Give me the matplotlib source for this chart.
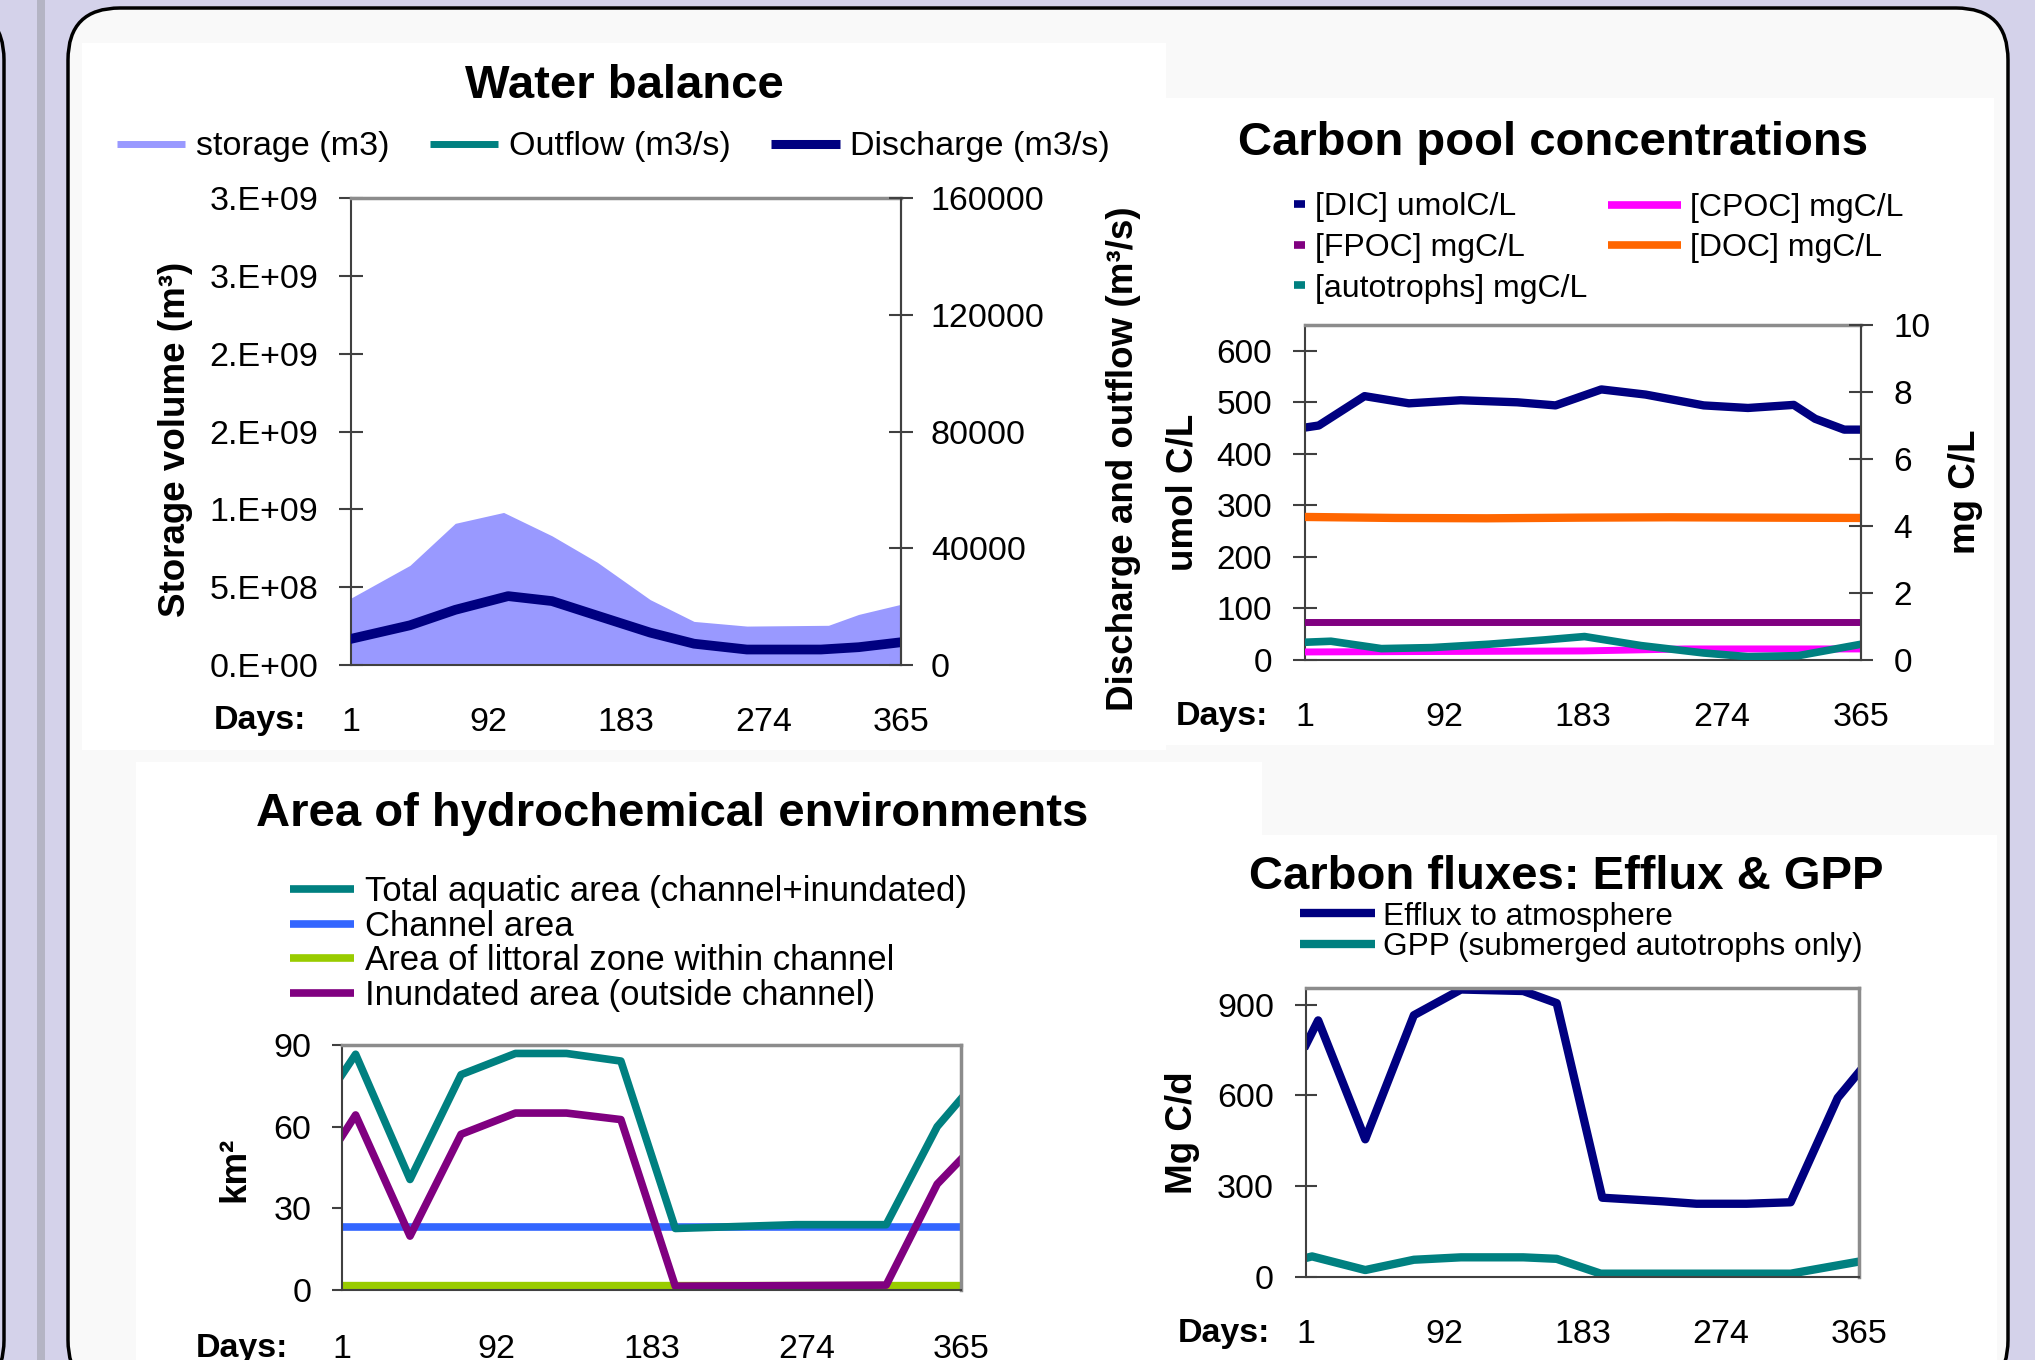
import matplotlib
matplotlib.use('Agg')
import matplotlib.pyplot as plt
from matplotlib.patches import Rectangle, FancyBboxPatch
from matplotlib.lines import Line2D

plt.rcParams['font.family'] = ['Liberation Sans', 'DejaVu Sans']

W, H = 2035, 1360

# ---------------- data ----------------
day_ticks = [1, 92, 183, 274, 365]

# water balance
storage_days = [1, 40, 70, 102, 134, 164, 199, 228, 263, 317, 337, 365]
storage_m3 = [4.3e8, 6.4e8, 9.1e8, 9.8e8, 8.3e8, 6.6e8, 4.2e8, 2.8e8, 2.5e8, 2.55e8, 3.25e8, 3.9e8]
flow_days = [1, 40, 70, 105, 134, 164, 199, 228, 263, 312, 337, 365]
discharge = [8960, 13600, 18900, 23600, 21900, 16900, 11100, 7300, 5300, 5300, 6100, 7800]
outflow = [8960, 13600, 18900, 23600, 21900, 16900, 11100, 7300, 5300, 5300, 6100, 7800]
storage_ticks = [0, 5e8, 1e9, 1.5e9, 2e9, 2.5e9, 3e9]
storage_tick_labels = ['0.E+00', '5.E+08', '1.E+09', '2.E+09', '2.E+09', '3.E+09', '3.E+09']
flow_ticks = [0, 40000, 80000, 120000, 160000]

# carbon pool concentrations
dic_days = [1, 10, 40, 69, 103, 140, 165, 195, 224, 262, 291, 321, 335, 354, 365]
dic = [451, 455, 512, 498, 504, 500, 494, 525, 515, 494, 489, 495, 468, 447, 447]
doc_days = [1, 60, 120, 183, 240, 300, 365]
doc = [4.27, 4.24, 4.23, 4.25, 4.26, 4.25, 4.24]
fpoc_days = [1, 365]
fpoc = [1.13, 1.13]
cpoc_days = [1, 183, 250, 365]
cpoc = [0.24, 0.27, 0.33, 0.33]
auto_days = [1, 18, 51, 84, 121, 158, 184, 221, 262, 291, 324, 365]
autotrophs = [0.53, 0.56, 0.34, 0.37, 0.47, 0.60, 0.70, 0.43, 0.21, 0.10, 0.13, 0.47]

# area of hydrochemical environments
total_days = [1, 9, 41, 71, 103, 133, 165, 197, 268, 321, 351, 365]
total_area = [79.1, 86.6, 40.6, 79.1, 86.9, 86.9, 84.1, 22.6, 24.0, 24.0, 60.0, 70.2]
channel_days = [1, 365]
channel_area = [23.0, 23.0]
littoral_days = [1, 365]
littoral_area = [1.5, 1.5]
inund_days = [1, 9, 41, 71, 103, 133, 165, 197, 321, 351, 365]
inund_area = [56.5, 64.3, 19.8, 57.2, 65.0, 65.0, 62.6, 1.4, 1.8, 38.9, 48.0]

# carbon fluxes
efflux_days = [1, 9, 40, 72, 103, 144, 166, 196, 236, 258, 291, 320, 351, 365]
efflux = [768, 848, 455, 865, 950, 945, 905, 262, 250, 242, 242, 247, 592, 677]
gpp_days = [1, 5, 40, 72, 103, 144, 166, 195, 320, 365]
gpp = [63, 68, 23, 57, 65, 65, 60, 11, 11, 51]

# ---------------- helpers ----------------
def fx(x):
    return x / W


def fy(y):
    return 1 - y / H


def rect(x0, y0, x1, y1):
    return [x0 / W, 1 - y1 / H, (x1 - x0) / W, (y1 - y0) / H]


def style(ax, right=None):
    ax.set_facecolor('white')
    ax.spines['top'].set_color('#8c8c8c')
    ax.spines['top'].set_linewidth(2.5)
    ax.spines['left'].set_color('#404040')
    ax.spines['left'].set_linewidth(1.5)
    ax.spines['bottom'].set_color('#404040')
    ax.spines['bottom'].set_linewidth(1.5)
    ax.spines['right'].set_color('#8c8c8c' if right is None else '#404040')
    ax.spines['right'].set_linewidth(2.5 if right is None else 1.5)
    ax.set_xlim(1, 365)
    ax.set_xticks(day_ticks)
    ax.set_xticklabels([str(d) for d in day_ticks])
    ax.tick_params(axis='x', length=0, labelsize=24.5, pad=30)


def handle(color, lw):
    return Line2D([], [], color=color, lw=lw, solid_capstyle='butt')


NAVY = '#000080'
TEAL = '#008080'

fig = plt.figure(figsize=(W / 100, H / 100), dpi=100)
fig.patch.set_facecolor('#d4d2ea')

bg = fig.add_axes([0, 0, 1, 1], zorder=-10)
bg.set_xlim(0, W)
bg.set_ylim(H, 0)
bg.axis('off')
bg.add_patch(FancyBboxPatch((-400, 8), 404, 1384, boxstyle='round,pad=0,rounding_size=52',
                            fc='#d4d2ea', ec='black', lw=2.5))
bg.add_patch(Rectangle((37, 0), 8, H, fc='#b4b4c4', ec='none'))
bg.add_patch(FancyBboxPatch((68, 8), 1940, 1384, boxstyle='round,pad=0,rounding_size=52',
                            fc='#f9f9f9', ec='black', lw=2.5))
for (x0, y0, x1, y1) in [(82, 43, 1166, 750), (1166, 98, 1994, 745),
                         (136, 762, 1262, 1400), (1262, 835, 1997, 1400)]:
    bg.add_patch(Rectangle((x0, y0), x1 - x0, y1 - y0, fc='white', ec='none'))

# ---------------- water balance ----------------
ax = fig.add_axes(rect(351, 198, 901, 665))
style(ax, right=True)
ax.fill_between(storage_days, storage_m3, 0, color='#9999ff', lw=0)
ax.set_ylim(0, 3e9)
ax.set_yticks(storage_ticks)
ax.set_yticklabels(storage_tick_labels)
ax.tick_params(axis='y', direction='inout', length=17, width=1.5, color='#404040',
               pad=15, labelsize=24.5)
ax2 = ax.twinx()
ax2.spines['top'].set_visible(False)
ax2.spines['left'].set_visible(False)
ax2.spines['bottom'].set_visible(False)
ax2.spines['right'].set_color('#404040')
ax2.spines['right'].set_linewidth(1.5)
ax2.plot(flow_days, outflow, color=TEAL, lw=5)
ax2.plot(flow_days, discharge, color=NAVY, lw=7)
ax2.set_ylim(0, 160000)
ax2.set_yticks(flow_ticks)
ax2.tick_params(axis='y', direction='inout', length=17, width=1.5, color='#404040',
                pad=13, labelsize=24.5)
hw = [handle('#9999ff', 5), handle(TEAL, 5), handle(NAVY, 6.5)]
ax2.legend(hw, ['storage (m3)', 'Outflow (m3/s)', 'Discharge (m3/s)'], loc='center left',
           bbox_to_anchor=(fx(117), fy(147)), bbox_transform=fig.transFigure, ncol=3,
           frameon=False, fontsize=24.6, handlelength=2.0, handletextpad=0.3,
           columnspacing=1.2, borderpad=0, borderaxespad=0)
fig.text(fx(624), fy(98.5), 'Water balance', ha='center', va='baseline', fontsize=34,
         fontweight='bold')
fig.text(fx(175), fy(439), 'Storage volume (m³)', rotation=90, ha='center', va='center',
         fontsize=26.5, fontweight='bold')
fig.text(fx(1123), fy(459), 'Discharge and outflow (m³/s)', rotation=90, ha='center',
         va='center', fontsize=26.5, fontweight='bold')
fig.text(fx(306), fy(729.5), 'Days:', ha='right', va='baseline', fontsize=24.5,
         fontweight='bold')

# ---------------- carbon pool concentrations ----------------
cx = fig.add_axes(rect(1305, 325, 1861, 660))
style(cx, right=True)
cx.plot(dic_days, dic, color=NAVY, lw=6)
cx.set_ylim(0, 650)
cx.set_yticks(range(0, 601, 100))
cx.tick_params(axis='y', direction='inout', length=17, width=1.5, color='#404040',
               pad=15, labelsize=24)
cx2 = cx.twinx()
cx2.spines['top'].set_visible(False)
cx2.spines['left'].set_visible(False)
cx2.spines['bottom'].set_visible(False)
cx2.spines['right'].set_color('#404040')
cx2.spines['right'].set_linewidth(1.5)
cx2.plot(fpoc_days, fpoc, color='#800080', lw=5)
cx2.plot(cpoc_days, cpoc, color='#ff00ff', lw=5)
cx2.plot(auto_days, autotrophs, color=TEAL, lw=5.5)
cx2.plot(doc_days, doc, color='#ff6600', lw=6)
cx2.set_ylim(0, 10)
cx2.set_yticks(range(0, 11, 2))
cx2.tick_params(axis='y', direction='inout', length=17, width=1.5, color='#404040',
                pad=15, labelsize=24)
cx.legend([handle(NAVY, 5.5), handle('#800080', 5.5), handle(TEAL, 5.5)],
          ['[DIC] umolC/L', '[FPOC] mgC/L', '[autotrophs] mgC/L'],
          loc='center left', bbox_to_anchor=(fx(1294), fy(248)),
          bbox_transform=fig.transFigure, frameon=False, fontsize=23,
          handlelength=0.35, handletextpad=0.3, labelspacing=0.33,
          borderpad=0, borderaxespad=0)
cx2.legend([handle('#ff00ff', 5.5), handle('#ff6600', 5.5)], ['[CPOC] mgC/L', '[DOC] mgC/L'],
           loc='center left', bbox_to_anchor=(fx(1608), fy(228)),
           bbox_transform=fig.transFigure, frameon=False, fontsize=23,
           handlelength=2.3, handletextpad=0.28, labelspacing=0.33,
           borderpad=0, borderaxespad=0)
fig.text(fx(1553), fy(155), 'Carbon pool concentrations', ha='center', va='baseline',
         fontsize=34, fontweight='bold')
fig.text(fx(1183), fy(492), 'umol C/L', rotation=90, ha='center', va='center',
         fontsize=26.5, fontweight='bold')
fig.text(fx(1965), fy(492), 'mg C/L', rotation=90, ha='center', va='center',
         fontsize=26.5, fontweight='bold')
fig.text(fx(1268), fy(725), 'Days:', ha='right', va='baseline', fontsize=24.5,
         fontweight='bold')

# ---------------- area of hydrochemical environments ----------------
ar = fig.add_axes(rect(342, 1045, 961, 1290))
style(ar)
ar.plot(littoral_days, littoral_area, color='#99cc00', lw=6)
ar.plot(channel_days, channel_area, color='#3366ff', lw=5.5)
ar.plot(total_days, total_area, color=TEAL, lw=5.5)
ar.plot(inund_days, inund_area, color='#800080', lw=5.5)
ar.set_ylim(0, 90)
ar.set_yticks([0, 30, 60, 90])
ar.tick_params(axis='y', direction='out', length=7, width=1.5, color='#404040',
               pad=15, labelsize=24.5)
ar.tick_params(axis='x', pad=32)
ar.legend([handle(TEAL, 5.5), handle('#3366ff', 5.5), handle('#99cc00', 5.5),
           handle('#800080', 5.5)],
          ['Total aquatic area (channel+inundated)', 'Channel area',
           'Area of littoral zone within channel', 'Inundated area (outside channel)'],
          loc='center left', bbox_to_anchor=(fx(290), fy(943.6)),
          bbox_transform=fig.transFigure, frameon=False, fontsize=25,
          handlelength=1.85, handletextpad=0.3, labelspacing=0.05,
          borderpad=0, borderaxespad=0)
fig.text(fx(672), fy(826), 'Area of hydrochemical environments', ha='center', va='baseline',
         fontsize=34, fontweight='bold')
fig.text(fx(235), fy(1169), 'km²', rotation=90, ha='center', va='center',
         fontsize=26.5, fontweight='bold')
fig.text(fx(288), fy(1357), 'Days:', ha='right', va='baseline', fontsize=24.5,
         fontweight='bold')

# ---------------- carbon fluxes ----------------
fl = fig.add_axes(rect(1306, 988, 1859, 1277))
style(fl)
fl.plot(efflux_days, efflux, color=NAVY, lw=6)
fl.plot(gpp_days, gpp, color=TEAL, lw=6)
fl.set_ylim(0, 955)
fl.set_yticks([0, 300, 600, 900])
fl.tick_params(axis='y', direction='inout', length=16, width=1.5, color='#404040',
               pad=15, labelsize=24.5)
fl.legend([handle(NAVY, 6), handle(TEAL, 6)],
          ['Efflux to atmosphere', 'GPP (submerged autotrophs only)'],
          loc='center left', bbox_to_anchor=(fx(1300), fy(932)),
          bbox_transform=fig.transFigure, frameon=False, fontsize=22.8,
          handlelength=2.37, handletextpad=0.25, labelspacing=0.03,
          borderpad=0, borderaxespad=0)
fig.text(fx(1566), fy(889), 'Carbon fluxes: Efflux & GPP', ha='center', va='baseline',
         fontsize=34, fontweight='bold')
fig.text(fx(1183), fy(1133), 'Mg C/d', rotation=90, ha='center', va='center',
         fontsize=26.5, fontweight='bold')
fig.text(fx(1270), fy(1341.7), 'Days:', ha='right', va='baseline', fontsize=24.5,
         fontweight='bold')

fig.savefig('out.png', dpi=100, facecolor=fig.get_facecolor())
